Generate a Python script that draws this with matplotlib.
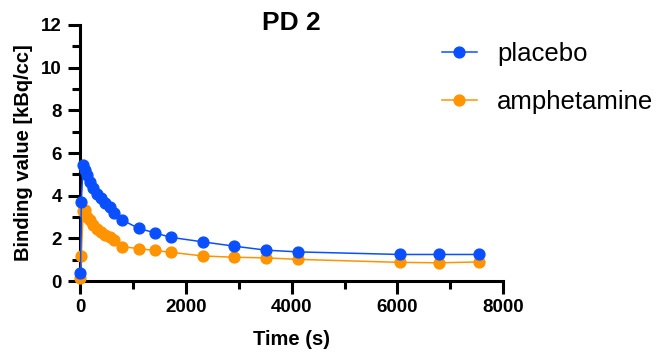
import matplotlib
matplotlib.use("Agg")
import matplotlib.pyplot as plt
from matplotlib.ticker import MultipleLocator

plt.rcParams['font.family'] = ['Liberation Sans', 'DejaVu Sans']

# frame times (s) and binding values (kBq/cc)
time_s = [10, 25, 60, 90, 130, 190, 250, 320, 400, 480, 560, 640, 800,
          1110, 1420, 1720, 2320, 2910, 3520, 4120, 6040, 6790, 7540]
placebo = [0.36, 3.7, 5.45, 5.2, 4.95, 4.62, 4.35, 4.1, 3.87, 3.64, 3.45, 3.2, 2.86,
           2.47, 2.26, 2.05, 1.84, 1.64, 1.45, 1.37, 1.25, 1.25, 1.25]
amphetamine = [0.13, 1.2, 3.3, 3.35, 3.02, 2.85, 2.62, 2.45, 2.3, 2.18, 2.05, 1.92, 1.62,
               1.52, 1.44, 1.35, 1.18, 1.12, 1.09, 1.02, 0.88, 0.86, 0.9]

blue = '#0A4FFF'
orange = '#FF9300'

fig = plt.figure(figsize=(6.72, 3.6), dpi=100)
ax = fig.add_axes([0.119, 0.219, 0.630, 0.712])

ax.plot(time_s, amphetamine, '-o', color=orange, lw=1.1, ms=7.8,
        label='amphetamine', clip_on=False, zorder=3)
ax.plot(time_s, placebo, '-o', color=blue, lw=1.1, ms=7.8,
        label='placebo', clip_on=False, zorder=4)

ax.set_xlim(0, 8000)
ax.set_ylim(0, 12)
ax.xaxis.set_major_locator(MultipleLocator(2000))
ax.xaxis.set_minor_locator(MultipleLocator(1000))
ax.yaxis.set_major_locator(MultipleLocator(2))
ax.yaxis.set_minor_locator(MultipleLocator(1))

for s in ['top', 'right']:
    ax.spines[s].set_visible(False)
for s in ['left', 'bottom']:
    ax.spines[s].set_linewidth(2.2)

ax.tick_params(which='major', length=9, width=2.2, labelsize=13.5, pad=4)
ax.tick_params(which='minor', length=6, width=2.2)
for lab in ax.get_xticklabels() + ax.get_yticklabels():
    lab.set_fontweight('bold')

ax.set_xlabel('Time (s)', fontsize=14.5, fontweight='bold', labelpad=10)
ax.set_ylabel('Binding value [kBq/cc]', fontsize=14.5, fontweight='bold', labelpad=6)
ax.set_title('PD 2', fontsize=19, fontweight='bold', y=1.0, pad=-3.6)

handles, labels = ax.get_legend_handles_labels()
fig.legend(handles[::-1], labels[::-1], loc='upper left',
           bbox_to_anchor=(442 / 672, 1 - 42 / 360), frameon=False,
           fontsize=18.5, handlelength=1.36, handletextpad=0.78,
           labelspacing=0.93, borderpad=0, borderaxespad=0)

fig.savefig('out.png', dpi=100)
